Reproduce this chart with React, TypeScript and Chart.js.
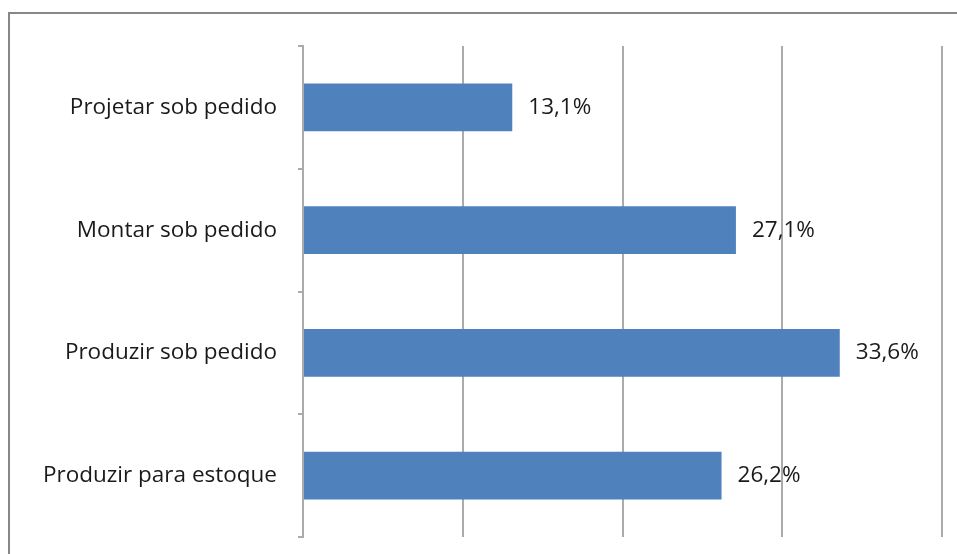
import React, { useEffect, useRef } from "react";
import { Chart, registerables } from "chart.js";

Chart.register(...registerables);

const categories = ["Projetar sob pedido", "Montar sob pedido", "Produzir sob pedido", "Produzir para estoque"];
const values = [13.1, 27.1, 33.6, 26.2];
const valueLabels = ["13,1%", "27,1%", "33,6%", "26,2%"];
const axisMax = 40;
const axisStep = 10;

const FONT = "'Open Sans', Lato, sans-serif";
const FONT_SIZE = 22.5;

export default function App() {
  const ref = useRef<HTMLCanvasElement | null>(null);
  useEffect(() => {
    if (!ref.current) return;
    const frame = {
      id: "frame",
      beforeDraw(chart: any) {
        const ctx = chart.ctx;
        ctx.save();
        ctx.fillStyle = "#ffffff";
        ctx.fillRect(0, 0, chart.width, chart.height);
        ctx.strokeStyle = "#878787";
        ctx.lineWidth = 2;
        ctx.strokeRect(9, 13, 1000, 700);
        ctx.restore();
      },
    };
    const labelsPlugin = {
      id: "valueLabels",
      afterDatasetsDraw(chart: any) {
        const ctx = chart.ctx;
        const meta = chart.getDatasetMeta(0);
        ctx.save();
        ctx.font = `${FONT_SIZE}px ${FONT}`;
        ctx.fillStyle = "#1a1a1a";
        ctx.textAlign = "left";
        ctx.textBaseline = "middle";
        meta.data.forEach((el: any, i: number) => {
          ctx.fillText(valueLabels[i], el.x + 16, el.y);
        });
        ctx.restore();
      },
    };
    const chart = new Chart(ref.current, {
      type: "bar",
      data: {
        labels: categories,
        datasets: [
          {
            data: values,
            backgroundColor: "#4F81BD",
            borderWidth: 0,
            barPercentage: 0.78,
            categoryPercentage: 0.5,
          },
        ],
      },
      options: {
        indexAxis: "y",
        animation: false,
        responsive: false,
        layout: { padding: { left: 0, top: 46, right: 15, bottom: 17 } },
        plugins: { legend: { display: false }, tooltip: { enabled: false } },
        scales: {
          x: {
            min: 0,
            max: axisMax,
            afterFit(scale: any) {
              scale.height = 0;
              scale.paddingLeft = 0;
              scale.paddingRight = 0;
            },
            ticks: { display: false, stepSize: axisStep },
            grid: { color: "#ababab", lineWidth: 2, drawTicks: false },
            border: { display: false },
          },
          y: {
            afterFit(scale: any) {
              scale.width = 303;
              scale.paddingTop = 0;
              scale.paddingBottom = 0;
            },
            ticks: {
              color: "#1a1a1a",
              font: { family: FONT, size: FONT_SIZE },
              padding: 21,
            },
            grid: {
              drawOnChartArea: false,
              drawTicks: true,
              tickLength: 5,
              color: "#ababab",
              lineWidth: 2,
            },
            border: { display: true, color: "#ababab", width: 2 },
          },
        },
      },
      plugins: [frame, labelsPlugin],
    });
    return () => chart.destroy();
  }, []);
  return (
    <div style={{ position: "absolute", left: 0, top: 0, width: 957, height: 554 }}>
      <canvas ref={ref} width={957} height={554} />
    </div>
  );
}
